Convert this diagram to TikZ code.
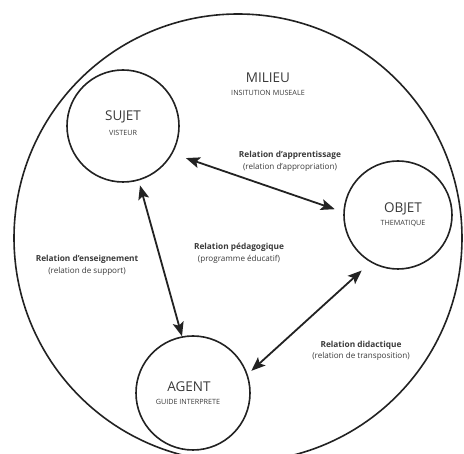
\documentclass[tikz,border=0pt]{standalone}
\usepackage{fontspec}
\setmainfont{Open Sans}
\usetikzlibrary{arrows.meta}
\definecolor{ink}{HTML}{222222}
\definecolor{txt}{HTML}{3A3A3A}
\begin{document}
\begin{tikzpicture}[x=1pt,y=-1pt,
  ring/.style={circle,draw=ink,line width=1.6pt,inner sep=0pt},
  rel/.style={<->,>={Stealth[length=14pt,width=11pt,inset=3pt]},draw=ink,line width=1.8pt},
  title/.style={text=txt,font=\fontsize{13.5}{13.5}\selectfont,inner sep=0pt},
  sub/.style={text=txt,font=\fontsize{7.2}{7.2}\selectfont,inner sep=0pt},
  lab/.style={text=txt,font=\fontsize{8.3}{8.3}\selectfont\bfseries,inner sep=0pt},
  labs/.style={text=txt,font=\fontsize{8.1}{8.1}\selectfont,inner sep=0pt}]
\useasboundingbox (0,0) rectangle (464,454);
\fill[white] (0,0) rectangle (464,454);
\node[ring,minimum size=448pt] (milieu) at (238,238) {};
\node[ring,minimum size=112pt] (sujet) at (123,126) {};
\node[ring,minimum size=108pt] (objet) at (398,215) {};
\node[ring,minimum size=114pt] (agent) at (193,393) {};
\node[title] (tm) at (268,78) {MILIEU};
\node[sub] (sm) at (268,93) {INSITUTION MUSEALE};
\node[title] (ts) at (123,117) {SUJET};
\node[sub] (ss) at (123,133) {VISTEUR};
\node[title] (to) at (403,209) {OBJET};
\node[sub] (so) at (403,224) {THEMATIQUE};
\node[title] (ta) at (189,387) {AGENT};
\node[sub] (sa) at (188,402) {GUIDE INTERPRETE};
\draw[rel,shorten <=14pt,shorten >=9pt] (sujet.-29) -- (objet.177);
\draw[rel,shorten <=5pt,shorten >=0pt] (sujet.-74) -- (agent.101);
\draw[rel,shorten <=12pt,shorten >=5pt] (objet.240) -- (agent.19);
\node[lab] (l1) at (290,155) {Relation d'apprentissage};
\node[labs] (l1b) at (290,167) {(relation d'appropriation)};
\node[lab] (l2) at (87,259) {Relation d'enseignement};
\node[labs] (l2b) at (87,271) {(relation de support)};
\node[lab] (l3) at (239,247) {Relation pédagogique};
\node[labs] (l3b) at (239,259) {(programme éducatif)};
\node[lab] (l4) at (361,345) {Relation didactique};
\node[labs] (l4b) at (361,356) {(relation de transposition)};
\end{tikzpicture}
\end{document}
